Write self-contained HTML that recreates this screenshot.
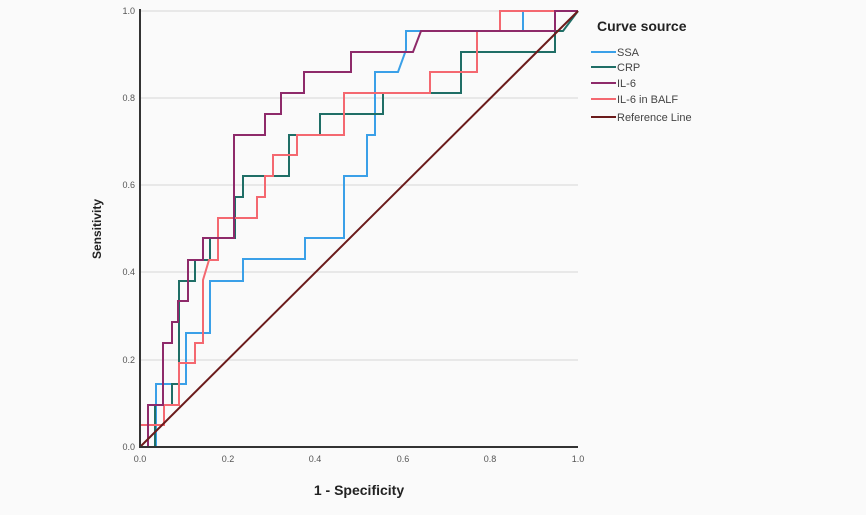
<!DOCTYPE html>
<html><head><meta charset="utf-8"><style>
html,body{margin:0;padding:0;background:#fafafa;}
svg{display:block;font-family:"Liberation Sans",sans-serif;}
</style></head><body>
<svg width="866" height="515" viewBox="0 0 866 515">
<rect x="0" y="0" width="866" height="515" fill="#fafafa"/>
<g stroke="#d6d6d6" stroke-width="1">
<line x1="140" y1="98" x2="578" y2="98"/>
<line x1="140" y1="185" x2="578" y2="185"/>
<line x1="140" y1="272" x2="578" y2="272"/>
<line x1="140" y1="360" x2="578" y2="360"/>
<line x1="140" y1="11" x2="578" y2="11"/>
</g>
<g fill="#555" font-size="9" text-anchor="end">
<text x="135" y="14">1.0</text><text x="135" y="101">0.8</text><text x="135" y="188">0.6</text>
<text x="135" y="275">0.4</text><text x="135" y="363">0.2</text><text x="135" y="450">0.0</text>
</g>
<g fill="#555" font-size="9" text-anchor="middle">
<text x="140" y="462">0.0</text><text x="228" y="462">0.2</text><text x="315" y="462">0.4</text>
<text x="403" y="462">0.6</text><text x="490" y="462">0.8</text><text x="578" y="462">1.0</text>
</g>
<text x="359" y="495" font-size="14" font-weight="bold" text-anchor="middle" fill="#222">1 - Specificity</text>
<text transform="translate(101,229) rotate(-90)" font-size="12" font-weight="bold" text-anchor="middle" fill="#222">Sensitivity</text>
<g fill="none" stroke-width="2" stroke-linejoin="miter">
<polyline stroke="#3aa0e8" points="140,447 156,447 156,384 186,384 186,333 210,333 210,281 243,281 243,259 305,259 305,238 344,238 344,176 367,176 367,135 375,135 375,72 398,72 406,50 406,31 523,31 523,11 578,11"/>
<polyline stroke="#1f6e66" points="140,447 155,447 155,405 172,405 172,384 179,384 179,281 195,281 195,260 210,260 210,238 235,238 235,197 243,197 243,176 289,176 289,135 320,135 320,114 383,114 383,93 461,93 461,52 555,52 555,31 563,31 578,11"/>
<polyline stroke="#f46870" points="140,447 140,425 164,425 164,405 179,405 179,363 195,363 195,343 203,343 203,280 209,260 218,260 218,218 257,218 257,197 265,197 265,176 273,176 273,155 297,155 297,135 344,135 344,93 430,93 430,72 477,72 477,31 500,31 500,11 578,11"/>
<polyline stroke="#8e2a6a" points="140,447 148,447 148,405 163,405 163,343 172,343 172,322 178,322 178,301 188,301 188,260 203,260 203,238 234,238 234,135 265,135 265,114 281,114 281,93 304,93 304,72 351,72 351,52 413,52 421,31 555,31 555,11 578,11"/>
<line x1="140" y1="447" x2="578" y2="11" stroke="#6b1b1b"/>
</g>
<line x1="140" y1="9" x2="140" y2="448" stroke="#333" stroke-width="2"/>
<line x1="139" y1="447" x2="578" y2="447" stroke="#333" stroke-width="2"/>
<text x="597" y="31" font-size="14" font-weight="bold" fill="#222">Curve source</text>
<g stroke-width="2">
<line x1="591" y1="52" x2="616" y2="52" stroke="#3aa0e8"/>
<line x1="591" y1="67" x2="616" y2="67" stroke="#1f6e66"/>
<line x1="591" y1="83" x2="616" y2="83" stroke="#8e2a6a"/>
<line x1="591" y1="99" x2="616" y2="99" stroke="#f46870"/>
<line x1="591" y1="117" x2="616" y2="117" stroke="#6b1b1b"/>
</g>
<g font-size="11" fill="#444">
<text x="617" y="56">SSA</text><text x="617" y="71">CRP</text><text x="617" y="87">IL-6</text>
<text x="617" y="103">IL-6 in BALF</text><text x="617" y="121">Reference Line</text>
</g>
</svg>
</body></html>
